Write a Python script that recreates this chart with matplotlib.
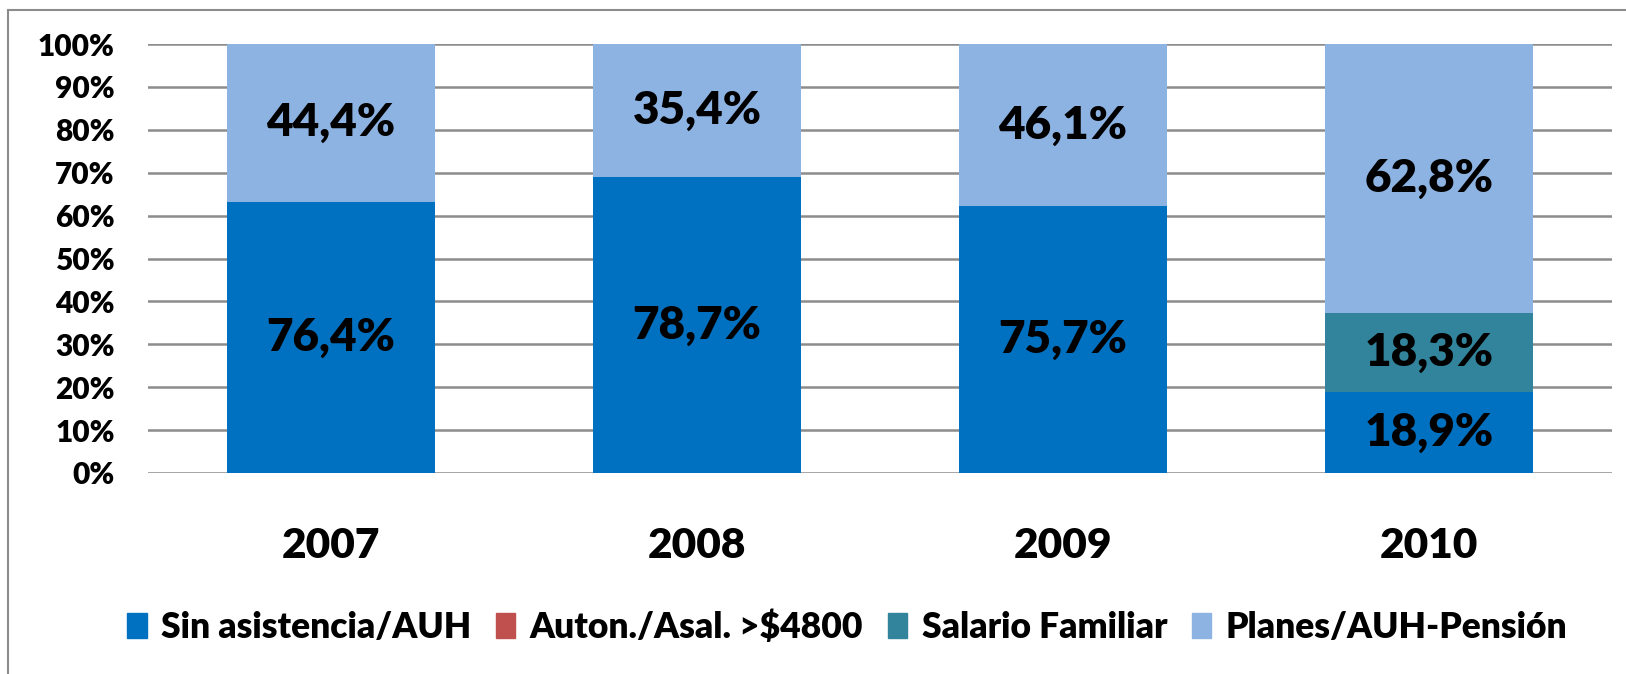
import matplotlib
matplotlib.use("Agg")
import matplotlib.pyplot as plt
from matplotlib.lines import Line2D
import numpy as np

years = ["2007", "2008", "2009", "2010"]
series_names = ["Sin asistencia/AUH", "Auton./Asal. >$4800", "Salario Familiar", "Planes/AUH-Pensión"]
sin_asistencia = [76.4, 78.7, 75.7, 18.9]
auton_asal = [0.0, 0.0, 0.0, 0.0]
salario_familiar = [0.0, 0.0, 0.0, 18.3]
planes = [44.4, 35.4, 46.1, 62.8]
colors = ["#0070C0", "#C0504D", "#31849B", "#8DB3E2"]

plt.rcParams['font.family'] = ['Lato', 'DejaVu Sans']
WEIGHT = 'heavy'
plt.rcParams['font.weight'] = WEIGHT

fig = plt.figure(figsize=(16.26, 6.74), dpi=100)
W, H = 1626, 674
ax = fig.add_axes([148 / W, 1 - 473 / H, (1612 - 148) / W, (473 - 44) / H])

data = np.array([sin_asistencia, auton_asal, salario_familiar, planes])
totals = data.sum(axis=0)
shares = data / totals
x = np.arange(len(years))
bottom = np.zeros(len(years))
for i, name in enumerate(series_names):
    ax.bar(x, shares[i], 0.57, bottom=bottom, color=colors[i], label=name, zorder=3)
    for j in range(len(years)):
        if data[i, j] > 0:
            ax.text(x[j], bottom[j] + shares[i, j] / 2, f"{data[i, j]:.1f}%".replace(".", ","),
                    ha="center", va="center", fontsize=33, fontweight=WEIGHT, color="black", zorder=4)
    bottom += shares[i]

ax.set_xlim(-0.5, len(years) - 0.5)
ax.set_ylim(0, 1)
ax.set_yticks(np.arange(0, 1.01, 0.1))
ax.set_yticklabels([f"{int(round(v * 100))}%" for v in np.arange(0, 1.01, 0.1)], fontsize=21.5, fontweight=WEIGHT)
ax.set_xticks(x)
ax.set_xticklabels(years, fontsize=30.5, fontweight=WEIGHT)
ax.tick_params(axis="y", length=0, pad=24)
ax.tick_params(axis="x", length=0, pad=39)
ax.yaxis.grid(True, color="#8C8C8C", linewidth=1.8, zorder=0)
for s in ax.spines.values():
    s.set_visible(False)

# chart frame (top and left edges visible)
fig.add_artist(Line2D([8 / W, 1], [1 - 10 / H, 1 - 10 / H], transform=fig.transFigure, color="#8C8C8C", lw=1.5))
fig.add_artist(Line2D([8 / W, 8 / W], [0, 1 - 10 / H], transform=fig.transFigure, color="#8C8C8C", lw=1.5))

handles = [plt.Rectangle((0, 0), 1, 1, color=c) for c in colors]
fig.legend(handles, series_names, loc="center", bbox_to_anchor=(0.521, 1 - 627 / H), ncol=4,
           frameon=False, handlelength=0.55, handleheight=0.7, handletextpad=0.4,
           columnspacing=0.7, prop={'weight': WEIGHT, 'size': 25.5})

fig.savefig("out.png", dpi=100)
